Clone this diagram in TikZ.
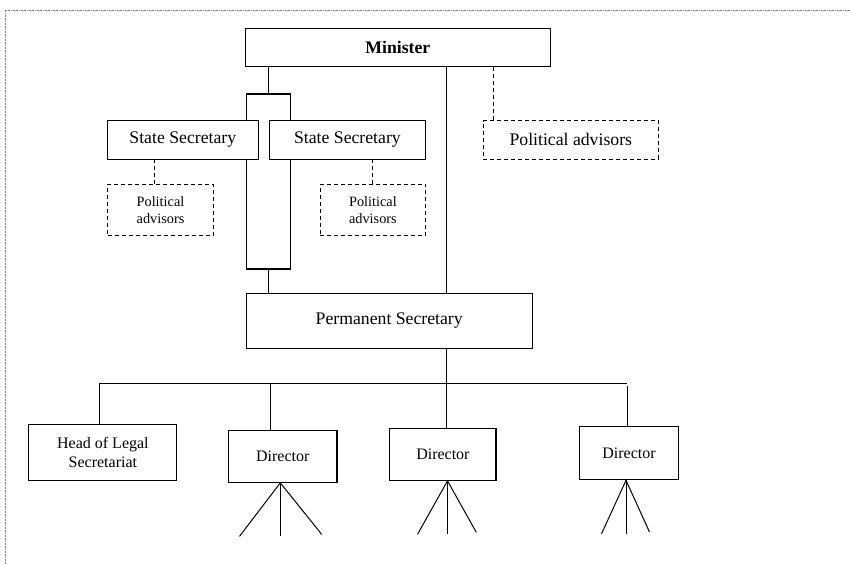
\documentclass[tikz,border=0pt]{standalone}
\usepackage{fontspec}
\setmainfont{Liberation Serif}
\usetikzlibrary{calc,positioning}

\begin{document}
\begin{tikzpicture}[x=1pt,y=-1pt]
		\tikzstyle{every node}=[font=\fontsize{17.7}{21}\selectfont]
		\tikzstyle{post}=[draw, line width=1.1pt, fill=white, inner sep=0pt, align=center]
		\tikzstyle{staff}=[post, font=\fontsize{16}{18.3}\selectfont]
		\tikzstyle{advisor}=[draw, line width=1pt, dash pattern=on 4pt off 3pt, fill=white, inner sep=0pt, align=center]
		\tikzstyle{link}=[line width=1pt]
		\tikzstyle{advlink}=[line width=1pt, dash pattern=on 4pt off 3pt]
		\useasboundingbox (0,0) rectangle (850,564);
		\draw [densely dotted, gray, line width=0.6pt] (5,564) -- (5,10) -- (850,10);
		% loop behind the two state secretaries
		\node [draw, line width=1.1pt, minimum width=44.7pt, minimum height=175pt, inner sep=0pt] (loop) at (268.4,181.5) {};
		\node [post, minimum width=304.3pt, minimum height=38.4pt, font=\fontsize{17.7}{21}\selectfont\bfseries] (minister) at (397.9,47.5) {Minister};
		\node [post, minimum width=151pt, minimum height=38.6pt] (ss1) at (182.8,140) {State Secretary};
		\node [post, minimum width=156.7pt, minimum height=38.6pt] (ss2) at (347.4,140) {State Secretary};
		\node [advisor, minimum width=105.6pt, minimum height=51.4pt, font=\fontsize{14.3}{16.7}\selectfont] (pa1) at (160.5,210) {Political\\advisors};
		\node [advisor, minimum width=105.7pt, minimum height=51.4pt, font=\fontsize{14.3}{16.7}\selectfont] (pa2) at (372.9,210) {Political\\advisors};
		\node [advisor, minimum width=175pt, minimum height=38.3pt] (pa3) at (570.8,139.9) {Political advisors};
		\node [post, minimum width=286.3pt, minimum height=55pt] (permsec) at (389.2,320.8) {Permanent Secretary};
		\node [staff, minimum width=148pt, minimum height=55.6pt] (legal) at (102.9,452.5) {Head of Legal\\Secretariat};
		\node [staff, minimum width=108.4pt, minimum height=52pt] (dir1) at (282.8,456.3) {Director};
		\node [staff, minimum width=106.1pt, minimum height=51.6pt] (dir2) at (442.9,454.5) {Director};
		\node [staff, minimum width=99.6pt, minimum height=53.7pt] (dir3) at (629,452.9) {Director};
		\coordinate (spine) at (446.5,383);
		\coordinate (barL) at (99.6,383);
		\coordinate (barR) at (627,383);
		\coordinate (drop1) at (270.5,383);
		% solid lines
		\draw [link] (loop.north) -- (loop.north |- minister.south);
		\draw [link] (loop.south) -- (loop.south |- permsec.north);
		\draw [link] (spine |- minister.south) -- (spine |- permsec.north);
		\draw [link] (spine |- permsec.south) -- (spine);
		\draw [link] (barL) -- (barR);
		\draw [link] (barL) -- (barL |- legal.north);
		\draw [link] (drop1) -- (drop1 |- dir1.north);
		\draw [link] (spine) -- (spine |- dir2.north);
		\draw [link] ([yshift=-3pt]barR) -- (barR |- dir3.north);
		% dashed lines
		\draw [advlink] ([xshift=-6.2pt]pa1.north) -- ([xshift=-6.2pt]pa1.north |- ss1.south);
		\draw [advlink] (pa2.north) -- (pa2.north |- ss2.south);
		\draw [advlink] ([xshift=10.7pt]pa3.north west) -- ([xshift=10.7pt]pa3.north west |- minister.south);
		% units below the directors
		\foreach \n/\dx/\l/\r in {dir1/-2.5/40.8/41.4, dir2/4.6/30/28.8, dir3/-3/24.5/23.4} {
			\draw [link] ([xshift=\dx pt]\n.south) -- +(-\l,53.5);
			\draw [link] ([xshift=\dx pt]\n.south) -- +(0,53.5);
			\draw [link] ([xshift=\dx pt]\n.south) -- +(\r,51.5);
		}
	\end{tikzpicture}
\end{document}
